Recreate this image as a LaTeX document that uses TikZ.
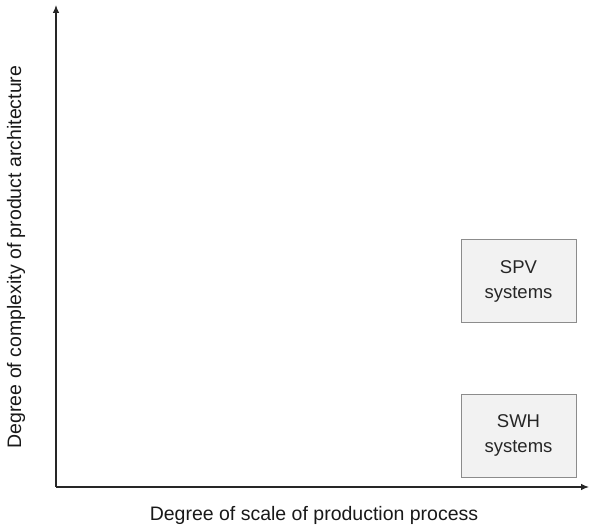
\documentclass[tikz,border=0pt]{standalone}
\usepackage{fontspec}
\setmainfont{Liberation Sans}
\usetikzlibrary{arrows.meta}
\begin{document}
\begin{tikzpicture}[x=1pt,y=-1pt,
  axis/.style={draw=black!85,line width=1.1pt,-{Latex[length=8pt,width=6.5pt]}},
  sysbox/.style={draw=black!45,fill=black!5,line width=0.9pt,minimum width=115pt,minimum height=83pt,inner sep=0pt,align=center,font=\fontsize{18.5}{25}\selectfont,text=black!85},
  axlabel/.style={font=\fontsize{19.5}{22}\selectfont,text=black!90,inner sep=0pt}]
\useasboundingbox (0,0) rectangle (590,529);
\coordinate (o) at (56,487);
\coordinate (ytop) at (56,5);
\coordinate (xend) at (589,487);
\draw[axis] (o) -- (ytop);
\draw[axis] (o) -- (xend);
\node[sysbox] (spv) at (518.5,281) {SPV\\systems};
\node[sysbox] (swh) at (518.5,435.5) {SWH\\systems};
\node[axlabel] (xl) at (314,515) {Degree of scale of production process};
\node[axlabel,rotate=90] (yl) at (16,257) {Degree of complexity of product architecture};
\end{tikzpicture}
\end{document}
